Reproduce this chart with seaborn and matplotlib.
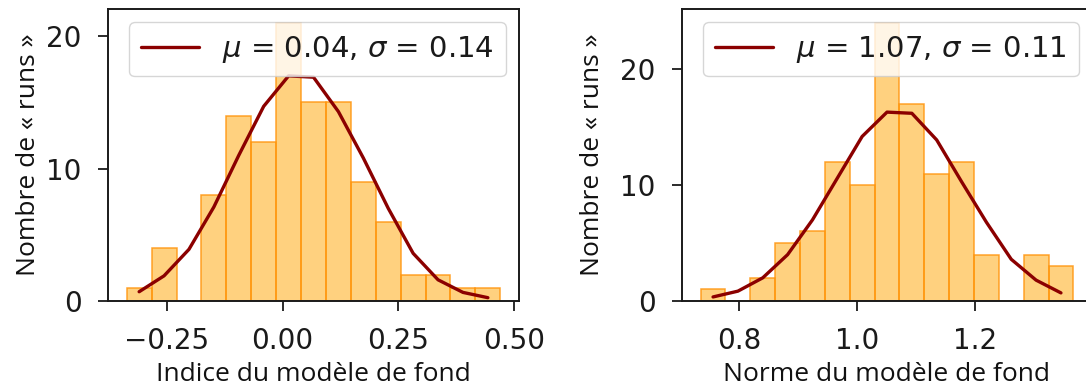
import numpy as np
import pandas as pd
import matplotlib
matplotlib.use("Agg")
import matplotlib.pyplot as plt
import seaborn as sns

# ---------------- data ----------------
left_bin_lo, left_bin_hi = -0.337, 0.471
left_counts = [1, 4, 0, 8, 14, 12, 21, 15, 15, 9, 6, 2, 2, 1, 1]
left_fit = [0.7, 1.9, 3.9, 7.1, 11.0, 14.7, 17.0, 16.9, 14.3, 10.8, 7.0, 3.6, 1.6, 0.65, 0.25]
left_label = r"$\mu$ = 0.04, $\sigma$ = 0.14"
left_xlabel = "Indice du modèle de fond"
left_xticks = [-0.25, 0.00, 0.25, 0.50]

right_bin_lo, right_bin_hi = 0.735, 1.366
right_counts = [1, 0, 2, 5, 6, 12, 10, 24, 17, 11, 12, 4, 0, 4, 3]
right_fit = [0.35, 0.85, 2.0, 4.0, 7.0, 10.6, 14.2, 16.3, 16.2, 13.9, 10.3, 6.8, 3.6, 1.8, 0.7]
right_label = r"$\mu$ = 1.07, $\sigma$ = 0.11"
right_xlabel = "Norme du modèle de fond"
right_xticks = [0.8, 1.0, 1.2]

ylabel = "Nombre de « runs »"
yticks = [0, 10, 20]

# ---------------- style ----------------
sns.set_theme(style="ticks")
plt.rcParams["font.family"] = ["DejaVu Sans"]
plt.rcParams["mathtext.fontset"] = "dejavusans"

W, H = 1086, 390
fig = plt.figure(figsize=(W / 100, H / 100), dpi=100)

face = (1.0, 0.647, 0.0, 0.5)
edge = (1.0, 0.58, 0.05, 0.85)
line_col = "#8B0000"
label_font = ["Open Sans", "DejaVu Sans"]


def panel(rect, lo, hi, counts, fit, label, xlabel, xticks, xfmt, ylabelpad):
    ax = fig.add_axes(rect)
    n = len(counts)
    edges = np.linspace(lo, hi, n + 1)
    centers = (edges[:-1] + edges[1:]) / 2
    df = pd.DataFrame({"x": centers, "w": counts})
    sns.histplot(data=df, x="x", weights="w", bins=n, binrange=(lo, hi), ax=ax,
                 facecolor=face, edgecolor=edge, linewidth=1.1)
    dfl = pd.DataFrame({"x": centers, "y": fit})
    sns.lineplot(data=dfl, x="x", y="y", ax=ax, color=line_col, linewidth=2.4,
                 label=label)
    ax.set_xlim(lo - 0.05 * (hi - lo), hi + 0.05 * (hi - lo))
    ax.set_ylim(0, max(counts) * 1.05)
    ax.set_xticks(xticks)
    ax.set_xticklabels([xfmt.format(v).replace("-", "\u2212") for v in xticks])
    ax.set_yticks(yticks)
    ax.set_xlabel(xlabel, fontsize=19, labelpad=5, family=label_font, color="#111111")
    ax.set_ylabel(ylabel, fontsize=19, labelpad=ylabelpad, family=label_font, color="#111111")
    ax.tick_params(labelsize=20, length=7, width=1.3, colors="#1a1a1a")
    ax.tick_params(axis="y", pad=12)
    ax.tick_params(axis="x", pad=12)
    for s in ax.spines.values():
        s.set_linewidth(1.4)
        s.set_color("#1a1a1a")
    leg = ax.legend(loc="upper right", fontsize=21, framealpha=0.8,
                    handlelength=2.0, borderaxespad=0.45)
    for t in leg.get_texts():
        t.set_color("#1a1a1a")
    return ax


panel([108 / W, (H - 301) / H, 411 / W, 292 / H], left_bin_lo, left_bin_hi,
      left_counts, left_fit, left_label, left_xlabel, left_xticks, "{:.2f}", 4)
panel([682 / W, (H - 301) / H, 410 / W, 292 / H], right_bin_lo, right_bin_hi,
      right_counts, right_fit, right_label, right_xlabel, right_xticks, "{:.1f}", 11)

fig.savefig("out.png", dpi=100)
